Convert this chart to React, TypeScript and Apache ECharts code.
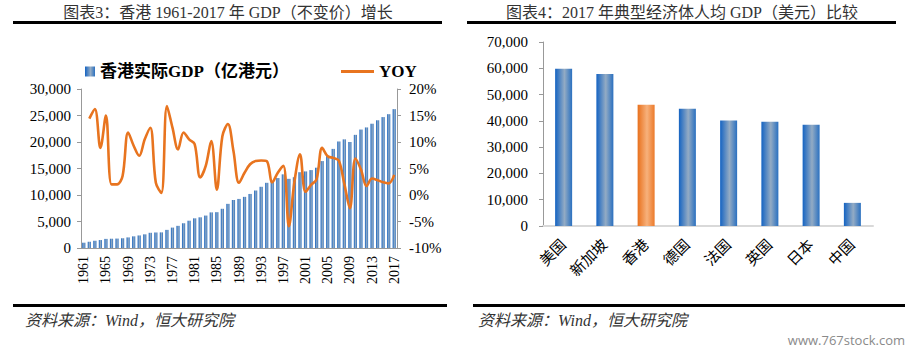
import React, { useEffect, useRef } from "react";
import * as echarts from "echarts";

const years: string[] = [];
for (let y = 1961; y <= 2017; y++) years.push(String(y));

const gdp = [
  1000, 1180, 1370, 1500, 1720, 1750, 1780, 1840, 2000, 2200,
  2370, 2580, 2870, 2930, 2950, 3420, 3850, 4180, 4670, 5150,
  5600, 5790, 6120, 6720, 6760, 7400, 8330, 9060, 9260, 9650,
  10200, 10850, 11550, 12300, 12650, 13200, 13900, 13050, 13350, 14300,
  14450, 14700, 15150, 16400, 17450, 18700, 20100, 20500, 20000, 21350,
  22350, 22750, 23450, 24100, 24700, 25250, 26200,
];

const yoy: (number | null)[] = [
  null, 14.4, 16.2, 8.9, 15.0, 2.0, 2.0, 3.6, 11.8, 9.3,
  7.4, 10.5, 12.7, 2.3, 0.4, 16.8, 12.7, 8.6, 11.8, 10.5,
  9.6, 3.3, 5.5, 10.2, 1.0, 11.1, 13.4, 8.3, 2.3, 4.2,
  5.8, 6.4, 6.5, 6.4, 2.4, 4.2, 5.5, -5.9, 2.5, 7.7,
  0.6, 1.9, 3.0, 8.9, 7.3, 7.0, 6.5, 2.1, -2.5, 6.9,
  4.8, 1.7, 3.1, 2.8, 2.4, 2.2, 3.8,
];

const economies = ["美国", "新加坡", "香港", "德国", "法国", "英国", "日本", "中国"];
const perCapita = [59800, 57800, 46100, 44600, 40100, 39700, 38500, 8800];
const highlight = "香港";

const SERIF = "'Liberation Serif', 'Noto Sans CJK SC', serif";
const CJK = "'Liberation Serif', 'Noto Sans CJK SC', sans-serif";

const blueGrad = {
  type: "linear", x: 0, y: 0, x2: 1, y2: 0,
  colorStops: [
    { offset: 0, color: "#1463c2" },
    { offset: 0.55, color: "#93abc4" },
    { offset: 1, color: "#2a70c0" },
  ],
};
const orangeGrad = {
  type: "linear", x: 0, y: 0, x2: 1, y2: 0,
  colorStops: [
    { offset: 0, color: "#e8701c" },
    { offset: 0.55, color: "#f7b17c" },
    { offset: 1, color: "#ec7a2a" },
  ],
};

const fmt = (v: number) => v.toLocaleString("en-US");

export default function App() {
  const ref = useRef<HTMLDivElement>(null);
  useEffect(() => {
    if (!ref.current) return;
    const chart = echarts.init(ref.current, undefined, { renderer: "svg" });
    const axisLbl = { color: "#000", fontSize: 15, fontFamily: SERIF };
    chart.setOption({
      animation: false,
      backgroundColor: "#fff",
      legend: [
        {
          data: [{ name: "香港实际GDP（亿港元）", icon: "rect" }],
          left: 80, top: 58, itemWidth: 10, itemHeight: 10, itemGap: 4,
          textStyle: { fontSize: 17, fontWeight: "bold", fontFamily: CJK, color: "#000" },
        },
        {
          data: [{ name: "YOY", icon: "rect" }],
          left: 336, top: 58, itemWidth: 33, itemHeight: 3, itemGap: 2,
          textStyle: { fontSize: 17, fontWeight: "bold", fontFamily: SERIF, color: "#000" },
        },
      ],
      grid: [
        { left: 81, right: 520, top: 89, bottom: 104 },
        { left: 543, right: 44, top: 42, bottom: 126 },
      ],
      xAxis: [
        {
          type: "category", gridIndex: 0, data: years,
          axisLine: { lineStyle: { color: "#999", width: 1 } },
          axisTick: { interval: 0, length: 4, lineStyle: { color: "#999" } },
          axisLabel: { color: "#000", fontSize: 14, fontFamily: SERIF, interval: 3, rotate: 90, margin: 8 },
        },
        {
          type: "category", gridIndex: 1, data: economies,
          axisLine: { lineStyle: { color: "#d9d9d9", width: 2 } },
          axisTick: { show: false },
          axisLabel: { color: "#000", fontSize: 15, fontFamily: CJK, rotate: 45, margin: 16 },
        },
      ],
      yAxis: [
        {
          type: "value", gridIndex: 0, min: 0, max: 30000, interval: 5000,
          axisLine: { show: true, lineStyle: { color: "#999" } },
          axisTick: { show: true, length: 4, lineStyle: { color: "#999" } },
          splitLine: { show: false },
          axisLabel: { ...axisLbl, formatter: (v: number) => fmt(v), margin: 10 },
        },
        {
          type: "value", gridIndex: 0, min: -10, max: 20, interval: 5, position: "right",
          axisLine: { show: true, lineStyle: { color: "#999" } },
          axisTick: { show: true, length: 4, lineStyle: { color: "#999" } },
          splitLine: { show: false },
          axisLabel: { ...axisLbl, formatter: "{value}%", margin: 12 },
        },
        {
          type: "value", gridIndex: 1, min: 0, max: 70000, interval: 10000,
          axisLine: { show: true, lineStyle: { color: "#999" } },
          axisTick: { show: true, length: 4, lineStyle: { color: "#999" } },
          splitLine: { show: false },
          axisLabel: { ...axisLbl, formatter: (v: number) => fmt(v), margin: 15 },
        },
      ],
      series: [
        {
          name: "香港实际GDP（亿港元）", type: "bar", xAxisIndex: 0, yAxisIndex: 0,
          data: gdp, barWidth: "58%", itemStyle: { color: blueGrad as any },
        },
        {
          name: "YOY", type: "line", xAxisIndex: 0, yAxisIndex: 1,
          data: yoy, smooth: 0.35, showSymbol: false, symbol: "none",
          lineStyle: { color: "#e8741f", width: 2.6 }, itemStyle: { color: "#e8741f" },
        },
        {
          name: "人均GDP", type: "bar", xAxisIndex: 1, yAxisIndex: 2,
          barWidth: 17,
          data: perCapita.map((v, i) => ({
            value: v,
            itemStyle: { color: (economies[i] === highlight ? orangeGrad : blueGrad) as any },
          })),
        },
      ],
      graphic: [
        {
          type: "text", x: 228, y: 12,
          style: {
            text: "图表3：香港 1961-2017 年 GDP（不变价）增长",
            font: `16px ${CJK}`, fill: "#333", textAlign: "center", textVerticalAlign: "middle",
          },
        },
        { type: "rect", shape: { x: 13, y: 21, width: 429, height: 3 }, style: { fill: "#000" } },
        {
          type: "text", x: 682, y: 12,
          style: {
            text: "图表4：2017 年典型经济体人均 GDP（美元）比较",
            font: `16px ${CJK}`, fill: "#333", textAlign: "center", textVerticalAlign: "middle",
          },
        },
        { type: "rect", shape: { x: 467, y: 21, width: 429, height: 3 }, style: { fill: "#000" } },
        { type: "rect", shape: { x: 13, y: 304, width: 434, height: 3 }, style: { fill: "#000" } },
        { type: "rect", shape: { x: 473, y: 304, width: 432, height: 3 }, style: { fill: "#000" } },
        {
          type: "text", x: 25, y: 320,
          style: {
            text: "资料来源：Wind，恒大研究院",
            font: `italic 16px ${CJK}`, fill: "#333", textAlign: "left", textVerticalAlign: "middle",
          },
        },
        {
          type: "text", x: 478, y: 320,
          style: {
            text: "资料来源：Wind，恒大研究院",
            font: `italic 16px ${CJK}`, fill: "#333", textAlign: "left", textVerticalAlign: "middle",
          },
        },
        {
          type: "text", x: 905, y: 340,
          style: {
            text: "www.767stock.com",
            font: `13px 'Open Sans', sans-serif`, fill: "#8a8a8a", textAlign: "right", textVerticalAlign: "middle",
          },
        },
      ],
    });
    return () => chart.dispose();
  }, []);
  return (
    <div
      ref={ref}
      style={{ position: "absolute", left: 0, top: 0, width: 917, height: 352, background: "#fff" }}
    />
  );
}
